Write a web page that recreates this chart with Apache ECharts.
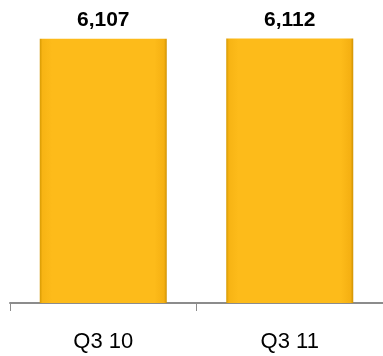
<!DOCTYPE html>
<html>
<head>
<meta charset="utf-8">
<script src="https://cdn.jsdelivr.net/npm/echarts@6/dist/echarts.min.js"></script>
<style>
  html, body { margin: 0; padding: 0; background: #fff; }
  #chart { width: 383px; height: 356px; }
</style>
</head>
<body>
<div id="chart"></div>
<script>
const categories = ['Q3 10', 'Q3 11']
const values = [6107, 6112]

const chart = echarts.init(document.getElementById('chart'))

// mostly flat fill, dark narrow edges like the bevelled bars in the source
const barColor = new echarts.graphic.LinearGradient(0, 0, 1, 0, [
  { offset: 0, color: '#D09400' },
  { offset: 0.025, color: '#F7B414' },
  { offset: 0.1, color: '#FDBB1A' },
  { offset: 0.9, color: '#FDBB1A' },
  { offset: 0.975, color: '#F5B012' },
  { offset: 1, color: '#C88C00' }
])

chart.setOption({
  animation: false,
  grid: { left: 10, width: 378, top: 0, bottom: 53 },
  xAxis: {
    type: 'category',
    data: categories,
    axisLine: { lineStyle: { color: '#8c8c8c', width: 2 } },
    axisTick: { show: true, length: 8, lineStyle: { color: '#8c8c8c', width: 1 } },
    axisLabel: {
      color: '#000',
      fontFamily: 'Liberation Sans, Arial, sans-serif',
      fontSize: 22,
      margin: 28
    }
  },
  yAxis: {
    type: 'value',
    min: 0,
    max: 7000,
    show: false
  },
  series: [{
    type: 'bar',
    data: values,
    barWidth: 127,
    itemStyle: { color: barColor, borderColor: 'rgba(255,215,0,0)' },
    label: {
      show: true,
      position: 'top',
      distance: 7,
      color: '#000',
      fontWeight: 'bold',
      fontFamily: 'Liberation Sans, Arial, sans-serif',
      fontSize: 21,
      formatter: p => p.value.toLocaleString('en-US')
    }
  }]
})
</script>
</body>
</html>
